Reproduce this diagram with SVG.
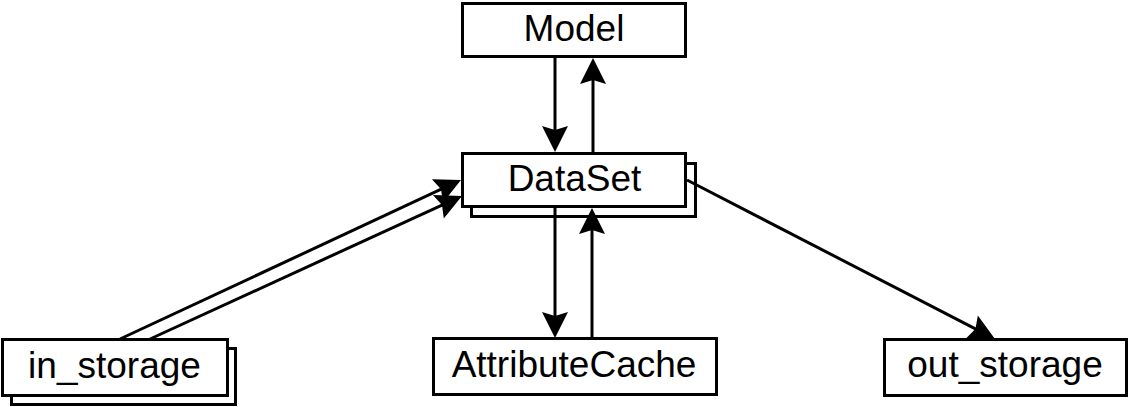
<svg xmlns="http://www.w3.org/2000/svg" width="1129" height="407" viewBox="0 0 1129 407">
  <style>
    .box { fill: #ffffff; stroke: #000000; stroke-width: 3; }
    .label { font-family: "Liberation Sans", Arial, sans-serif; font-size: 37px; fill: #000000; text-anchor: middle; }
    .edge { fill: none; stroke: #000000; stroke-width: 3; marker-end: url(#arrow); }
  </style>
  <defs>
    <!-- filled arrowhead with a slightly notched back; tip sits 10px past the line end -->
    <marker id="arrow" markerUnits="userSpaceOnUse" viewBox="-18 -14 30 28" refX="0" refY="0" markerWidth="30" markerHeight="28" orient="auto" overflow="visible">
      <path d="M10,0 L-16,-13 L-12,0 L-16,13 Z" fill="#000000"/>
    </marker>
  </defs>

  <rect width="1129" height="407" fill="#ffffff"/>

  <g id="model">
    <rect class="box" x="462.5" y="3.5" width="223" height="53"/>
    <text class="label" x="574" y="41">Model</text>
  </g>

  <g id="dataset">
    <rect class="box" x="471.5" y="163.5" width="224" height="53"/>
    <rect class="box" x="462.5" y="153.5" width="223" height="53"/>
    <text class="label" x="574.5" y="191">DataSet</text>
  </g>

  <g id="in_storage">
    <rect class="box" x="11.5" y="348.5" width="224" height="56"/>
    <rect class="box" x="2.5" y="339.5" width="225" height="56"/>
    <text class="label" x="114.5" y="378">in_storage</text>
  </g>

  <g id="attribute_cache">
    <rect class="box" x="433.5" y="338.5" width="283" height="56"/>
    <text class="label" x="574" y="377">AttributeCache</text>
  </g>

  <g id="out_storage">
    <rect class="box" x="884.5" y="339.5" width="242" height="56"/>
    <text class="label" x="1005" y="377">out_storage</text>
  </g>

  <g id="connectors">
    <line class="edge" x1="555" y1="58" x2="555" y2="142"/>
    <line class="edge" x1="593" y1="152" x2="593" y2="68"/>
    <line class="edge" x1="555" y1="208" x2="555" y2="328"/>
    <line class="edge" x1="592" y1="338" x2="592" y2="218"/>
    <line class="edge" x1="120" y1="339" x2="451.9" y2="184.2"/>
    <line class="edge" x1="150" y1="339" x2="452.9" y2="200.1"/>
    <line class="edge" x1="687" y1="180" x2="986.1" y2="334.4"/>
  </g>
</svg>
